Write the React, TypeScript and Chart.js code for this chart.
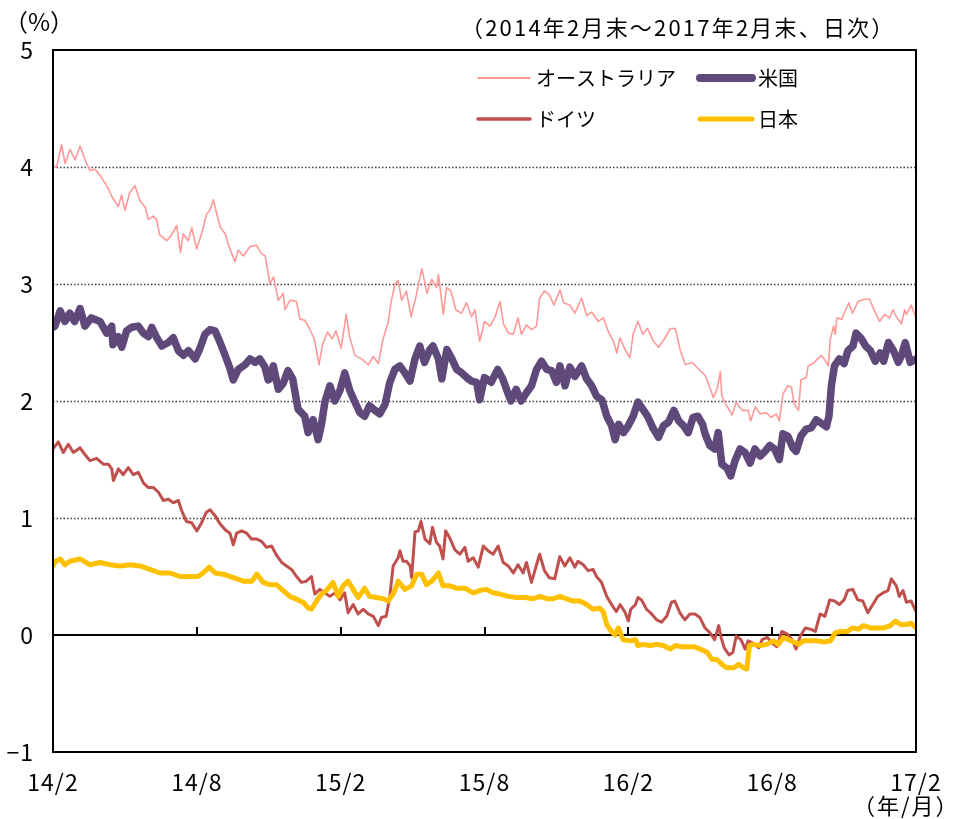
import React, { useEffect, useRef } from "react";
import { Chart, registerables } from "chart.js";

Chart.register(...registerables);

// x positions are months after end of Feb 2014 (0 = 14/2, 36 = 17/2)
const xTickLabels = ["14/2", "14/8", "15/2", "15/8", "16/2", "16/8", "17/2"];
const xTickStep = 6;
const yTickValues = [-1, 0, 1, 2, 3, 4, 5];
const gridValues = [1, 2, 3, 4];
const seriesNames = ["オーストラリア", "米国", "ドイツ", "日本"];
const titleText = "（2014年2月末～2017年2月末、日次）";
const unitText = "（%）";
const xUnitText = "（年/月）";

const australia: [number, number][] = [
  [0, 4.01], [0.15, 4.0], [0.36, 4.19], [0.5, 4.03], [0.71, 4.15], [0.92, 4.06], [1.13, 4.18], [1.34, 4.06],
  [1.54, 3.97], [1.75, 3.98], [1.96, 3.93], [2.24, 3.84], [2.45, 3.75], [2.72, 3.66], [2.86, 3.76], [3.0, 3.63],
  [3.2, 3.78], [3.42, 3.84], [3.63, 3.71], [3.84, 3.66], [3.98, 3.55], [4.18, 3.58], [4.32, 3.55], [4.45, 3.42],
  [4.74, 3.37], [4.95, 3.42], [5.16, 3.5], [5.32, 3.27], [5.43, 3.43], [5.64, 3.37], [5.79, 3.48], [5.99, 3.3],
  [6.2, 3.43], [6.41, 3.6], [6.55, 3.63], [6.69, 3.72], [6.83, 3.6], [6.97, 3.49], [7.18, 3.43], [7.38, 3.3],
  [7.59, 3.19], [7.73, 3.29], [7.94, 3.24], [8.22, 3.32], [8.49, 3.33], [8.7, 3.26], [8.85, 3.24], [9.05, 3.0],
  [9.2, 3.06], [9.4, 2.86], [9.6, 2.92], [9.68, 2.78], [9.88, 2.86], [10.16, 2.85], [10.3, 2.7], [10.5, 2.69],
  [10.7, 2.62], [10.9, 2.53], [11.1, 2.31], [11.24, 2.48], [11.45, 2.59], [11.65, 2.53], [11.8, 2.6], [12.02, 2.45],
  [12.23, 2.74], [12.37, 2.55], [12.6, 2.39], [12.87, 2.36], [13.15, 2.31], [13.36, 2.38], [13.57, 2.32], [13.77, 2.53],
  [13.98, 2.67], [14.1, 2.84], [14.26, 3.0], [14.4, 3.03], [14.54, 2.86], [14.74, 2.94], [14.94, 2.72], [15.15, 2.9],
  [15.3, 3.05], [15.39, 3.13], [15.6, 2.92], [15.8, 3.04], [16.0, 2.97], [16.08, 3.08], [16.28, 2.74], [16.42, 2.97],
  [16.6, 2.94], [16.8, 2.78], [17.04, 2.75], [17.25, 2.84], [17.46, 2.72], [17.6, 2.78], [17.8, 2.51], [18.0, 2.68],
  [18.23, 2.64], [18.44, 2.72], [18.65, 2.85], [18.79, 2.66], [19.0, 2.58], [19.2, 2.57], [19.4, 2.71], [19.54, 2.57],
  [19.75, 2.65], [19.96, 2.61], [20.17, 2.64], [20.3, 2.88], [20.5, 2.94], [20.7, 2.91], [20.9, 2.82], [21.15, 2.95],
  [21.3, 2.84], [21.56, 2.82], [21.77, 2.75], [22.05, 2.88], [22.26, 2.73], [22.47, 2.76], [22.75, 2.68], [22.96, 2.71],
  [23.17, 2.59], [23.38, 2.51], [23.52, 2.41], [23.65, 2.54], [23.86, 2.44], [24.07, 2.37], [24.2, 2.57], [24.4, 2.68],
  [24.6, 2.57], [24.8, 2.62], [25.05, 2.51], [25.26, 2.46], [25.54, 2.54], [25.75, 2.62], [25.96, 2.62], [26.17, 2.43],
  [26.38, 2.31], [26.66, 2.33], [26.9, 2.28], [27.2, 2.22], [27.35, 2.14], [27.55, 2.03], [27.7, 2.1], [27.84, 2.25],
  [27.9, 2.04], [28.1, 1.96], [28.33, 1.88], [28.5, 1.99], [28.74, 1.92], [29.0, 1.92], [29.1, 1.83], [29.3, 1.95],
  [29.5, 1.89], [29.75, 1.9], [29.96, 1.86], [30.17, 1.89], [30.3, 1.83], [30.45, 2.06], [30.65, 2.13], [30.8, 2.12],
  [30.93, 1.97], [31.1, 1.92], [31.2, 2.18], [31.42, 2.2], [31.5, 2.3], [31.7, 2.32], [31.9, 2.36], [32.05, 2.39],
  [32.2, 2.35], [32.34, 2.3], [32.42, 2.52], [32.56, 2.64], [32.63, 2.57], [32.7, 2.71], [32.9, 2.7], [33.0, 2.75],
  [33.2, 2.84], [33.35, 2.75], [33.58, 2.85], [33.85, 2.87], [34.06, 2.87], [34.27, 2.77], [34.48, 2.68], [34.69, 2.74],
  [34.9, 2.71], [35.04, 2.78], [35.18, 2.72], [35.39, 2.66], [35.53, 2.78], [35.6, 2.74], [35.8, 2.82], [36, 2.71],
];

const usa: [number, number][] = [
  [0, 2.63], [0.08, 2.64], [0.3, 2.77], [0.5, 2.68], [0.7, 2.75], [0.9, 2.68], [1.13, 2.79], [1.33, 2.64],
  [1.6, 2.71], [1.96, 2.68], [2.24, 2.58], [2.45, 2.64], [2.5, 2.48], [2.72, 2.55], [2.87, 2.46], [3.07, 2.6],
  [3.28, 2.63], [3.56, 2.64], [3.77, 2.58], [3.98, 2.55], [4.12, 2.63], [4.33, 2.54], [4.54, 2.47], [4.81, 2.5],
  [5.02, 2.54], [5.23, 2.43], [5.44, 2.39], [5.65, 2.43], [5.93, 2.36], [6.13, 2.45], [6.34, 2.57], [6.55, 2.61],
  [6.76, 2.6], [6.97, 2.5], [7.18, 2.39], [7.38, 2.28], [7.52, 2.18], [7.73, 2.27], [8.01, 2.31], [8.22, 2.36],
  [8.43, 2.33], [8.63, 2.36], [8.84, 2.29], [8.98, 2.18], [9.05, 2.19], [9.19, 2.3], [9.4, 2.1], [9.6, 2.15],
  [9.8, 2.26], [10.0, 2.19], [10.22, 1.93], [10.5, 1.87], [10.64, 1.73], [10.85, 1.84], [11.06, 1.67], [11.2, 1.8],
  [11.34, 1.99], [11.55, 2.13], [11.76, 2.0], [11.97, 2.09], [12.17, 2.24], [12.38, 2.09], [12.6, 1.99], [12.8, 1.9],
  [13.0, 1.87], [13.2, 1.96], [13.43, 1.92], [13.63, 1.89], [13.85, 1.97], [14.05, 2.16], [14.26, 2.27], [14.47, 2.3],
  [14.68, 2.24], [14.89, 2.17], [15.1, 2.36], [15.3, 2.47], [15.5, 2.33], [15.72, 2.44], [15.85, 2.47], [16.08, 2.36],
  [16.22, 2.19], [16.43, 2.44], [16.64, 2.36], [16.84, 2.27], [17.05, 2.24], [17.26, 2.2], [17.46, 2.17], [17.67, 2.16],
  [17.8, 2.01], [18.0, 2.2], [18.28, 2.16], [18.55, 2.27], [18.76, 2.19], [18.97, 2.07], [19.1, 2.0], [19.32, 2.1],
  [19.53, 2.0], [19.75, 2.07], [19.96, 2.13], [20.17, 2.27], [20.38, 2.34], [20.6, 2.27], [20.8, 2.26], [21.0, 2.16],
  [21.15, 2.3], [21.36, 2.13], [21.56, 2.29], [21.77, 2.21], [22.05, 2.3], [22.26, 2.19], [22.47, 2.13], [22.68, 2.04],
  [22.9, 2.01], [23.1, 1.87], [23.3, 1.79], [23.45, 1.67], [23.6, 1.8], [23.8, 1.73], [24.0, 1.79], [24.2, 1.87],
  [24.4, 1.99], [24.6, 1.93], [24.8, 1.87], [25.05, 1.76], [25.26, 1.69], [25.47, 1.79], [25.68, 1.82], [25.9, 1.92],
  [26.1, 1.83], [26.3, 1.79], [26.5, 1.73], [26.7, 1.86], [26.9, 1.87], [27.1, 1.8], [27.2, 1.72], [27.4, 1.62],
  [27.6, 1.59], [27.75, 1.73], [27.9, 1.46], [28.1, 1.43], [28.27, 1.36], [28.45, 1.49], [28.66, 1.59], [28.87, 1.56],
  [29.08, 1.47], [29.28, 1.59], [29.5, 1.53], [29.7, 1.57], [29.9, 1.62], [30.1, 1.59], [30.3, 1.5], [30.45, 1.72],
  [30.65, 1.7], [30.86, 1.6], [31.0, 1.57], [31.2, 1.7], [31.42, 1.76], [31.63, 1.77], [31.84, 1.84], [32.05, 1.81],
  [32.26, 1.78], [32.37, 1.87], [32.47, 2.13], [32.6, 2.3], [32.8, 2.36], [33.0, 2.32], [33.16, 2.43], [33.37, 2.47],
  [33.5, 2.58], [33.7, 2.54], [33.9, 2.47], [34.1, 2.43], [34.3, 2.34], [34.5, 2.41], [34.65, 2.34], [34.85, 2.5],
  [35.06, 2.43], [35.26, 2.33], [35.4, 2.39], [35.55, 2.5], [35.76, 2.33], [36, 2.36],
];

const germany: [number, number][] = [
  [0, 1.59], [0.22, 1.65], [0.43, 1.56], [0.64, 1.63], [0.85, 1.56], [1.13, 1.6], [1.34, 1.54], [1.54, 1.49],
  [1.82, 1.51], [2.1, 1.46], [2.31, 1.46], [2.45, 1.42], [2.52, 1.32], [2.73, 1.42], [2.93, 1.37], [3.14, 1.43],
  [3.35, 1.37], [3.56, 1.39], [3.77, 1.3], [3.98, 1.26], [4.19, 1.26], [4.4, 1.22], [4.6, 1.15], [4.81, 1.16],
  [5.02, 1.13], [5.23, 1.15], [5.37, 1.06], [5.57, 0.97], [5.78, 0.96], [6.0, 0.89], [6.2, 0.96], [6.4, 1.05],
  [6.55, 1.07], [6.76, 1.02], [6.97, 0.95], [7.18, 0.9], [7.38, 0.87], [7.52, 0.77], [7.66, 0.87], [7.87, 0.89],
  [8.08, 0.87], [8.28, 0.82], [8.5, 0.82], [8.7, 0.8], [8.9, 0.75], [9.12, 0.76], [9.33, 0.68], [9.54, 0.62],
  [9.74, 0.59], [9.95, 0.56], [10.16, 0.5], [10.36, 0.45], [10.57, 0.46], [10.78, 0.5], [10.92, 0.35], [11.13, 0.39],
  [11.34, 0.36], [11.55, 0.33], [11.76, 0.36], [11.97, 0.3], [12.17, 0.36], [12.31, 0.19], [12.52, 0.26], [12.73, 0.18],
  [12.94, 0.22], [13.15, 0.18], [13.36, 0.16], [13.57, 0.08], [13.7, 0.15], [13.9, 0.16], [14.05, 0.33], [14.19, 0.59],
  [14.4, 0.66], [14.47, 0.72], [14.6, 0.63], [14.75, 0.63], [14.9, 0.59], [14.96, 0.49], [15.1, 0.88], [15.24, 0.89],
  [15.35, 0.97], [15.52, 0.82], [15.72, 0.78], [15.83, 0.92], [16.0, 0.79], [16.13, 0.76], [16.27, 0.65], [16.38, 0.89],
  [16.55, 0.83], [16.76, 0.73], [16.97, 0.69], [17.18, 0.75], [17.32, 0.63], [17.53, 0.66], [17.74, 0.58], [17.95, 0.76],
  [18.15, 0.72], [18.36, 0.69], [18.57, 0.76], [18.78, 0.62], [18.99, 0.59], [19.2, 0.53], [19.4, 0.6], [19.61, 0.53],
  [19.75, 0.62], [19.96, 0.45], [20.1, 0.55], [20.3, 0.69], [20.5, 0.55], [20.7, 0.49], [20.93, 0.48], [21.14, 0.67],
  [21.35, 0.59], [21.56, 0.66], [21.77, 0.58], [21.9, 0.63], [22.12, 0.6], [22.32, 0.55], [22.53, 0.56], [22.67, 0.5],
  [22.88, 0.45], [23.1, 0.33], [23.3, 0.26], [23.5, 0.2], [23.66, 0.26], [23.87, 0.19], [24.0, 0.12], [24.1, 0.22],
  [24.3, 0.26], [24.4, 0.32], [24.55, 0.3], [24.76, 0.22], [24.97, 0.18], [25.18, 0.13], [25.39, 0.11], [25.6, 0.16],
  [25.8, 0.28], [25.94, 0.29], [26.15, 0.19], [26.36, 0.13], [26.57, 0.18], [26.78, 0.18], [26.98, 0.15], [27.2, 0.06],
  [27.4, 0.02], [27.6, -0.04], [27.77, 0.08], [27.87, -0.02], [28.0, -0.11], [28.2, -0.17], [28.36, -0.15], [28.5, -0.01],
  [28.7, -0.04], [28.87, -0.12], [29.0, -0.05], [29.2, -0.07], [29.44, -0.11], [29.58, -0.04], [29.8, -0.02], [30.0, -0.07],
  [30.2, -0.1], [30.4, 0.03], [30.62, 0.01], [30.83, -0.04], [31.0, -0.12], [31.17, -0.01], [31.38, 0.06], [31.6, 0.05],
  [31.8, 0.03], [32.0, 0.18], [32.2, 0.16], [32.4, 0.3], [32.6, 0.29], [32.8, 0.26], [33.0, 0.3], [33.15, 0.38],
  [33.36, 0.39], [33.57, 0.3], [33.78, 0.29], [33.99, 0.19], [34.2, 0.26], [34.4, 0.33], [34.62, 0.36], [34.83, 0.38],
  [34.97, 0.48], [35.18, 0.42], [35.3, 0.33], [35.46, 0.38], [35.6, 0.28], [35.8, 0.29], [36, 0.2],
];

const japan: [number, number][] = [
  [0, 0.59], [0.1, 0.63], [0.3, 0.65], [0.5, 0.6], [0.7, 0.63], [1.13, 0.65], [1.54, 0.6], [1.96, 0.62],
  [2.38, 0.6], [2.8, 0.59], [3.2, 0.6], [3.63, 0.59], [4.05, 0.56], [4.46, 0.53], [4.88, 0.53], [5.3, 0.5],
  [5.7, 0.5], [6.05, 0.5], [6.26, 0.53], [6.52, 0.58], [6.76, 0.53], [7.1, 0.52], [7.52, 0.49], [7.94, 0.46],
  [8.3, 0.46], [8.5, 0.52], [8.77, 0.45], [9.05, 0.43], [9.32, 0.43], [9.6, 0.38], [9.88, 0.33], [10.22, 0.3],
  [10.43, 0.28], [10.65, 0.23], [10.78, 0.22], [10.99, 0.29], [11.2, 0.35], [11.4, 0.38], [11.68, 0.45], [11.9, 0.33],
  [12.1, 0.42], [12.31, 0.46], [12.52, 0.39], [12.73, 0.32], [13.0, 0.4], [13.2, 0.33], [13.5, 0.32], [13.78, 0.31],
  [13.98, 0.29], [14.19, 0.35], [14.4, 0.46], [14.68, 0.39], [14.96, 0.42], [15.17, 0.52], [15.38, 0.52], [15.58, 0.43],
  [15.8, 0.46], [16.08, 0.53], [16.27, 0.42], [16.55, 0.42], [16.83, 0.4], [17.18, 0.4], [17.53, 0.36], [17.8, 0.38],
  [18.08, 0.39], [18.36, 0.36], [18.65, 0.35], [19.0, 0.33], [19.35, 0.32], [19.7, 0.32], [20.03, 0.31], [20.3, 0.33],
  [20.6, 0.31], [20.87, 0.31], [21.14, 0.33], [21.4, 0.31], [21.7, 0.29], [21.98, 0.29], [22.26, 0.26], [22.53, 0.22],
  [22.8, 0.23], [22.95, 0.2], [23.1, 0.09], [23.3, 0.03], [23.44, 0.0], [23.58, 0.06], [23.78, -0.04], [24.07, -0.05],
  [24.3, -0.04], [24.4, -0.09], [24.6, -0.08], [24.9, -0.09], [25.18, -0.08], [25.45, -0.09], [25.76, -0.12], [25.96, -0.09],
  [26.24, -0.1], [26.45, -0.1], [26.72, -0.1], [27.0, -0.12], [27.3, -0.15], [27.5, -0.21], [27.7, -0.21], [27.9, -0.25],
  [28.1, -0.28], [28.4, -0.28], [28.6, -0.25], [28.8, -0.28], [28.94, -0.29], [29.05, -0.09], [29.2, -0.08], [29.5, -0.09],
  [29.77, -0.08], [30.05, -0.05], [30.26, -0.08], [30.47, -0.02], [30.68, -0.04], [30.9, -0.06], [31.1, -0.08], [31.3, -0.05],
  [31.6, -0.05], [31.87, -0.05], [32.15, -0.06], [32.43, -0.05], [32.64, 0.02], [32.85, 0.03], [33.13, 0.03], [33.34, 0.06],
  [33.6, 0.05], [33.8, 0.08], [34.1, 0.06], [34.37, 0.06], [34.65, 0.06], [34.93, 0.08], [35.14, 0.12], [35.35, 0.09],
  [35.6, 0.09], [35.8, 0.1], [36, 0.06],
];

const COLORS = { aus: "#FF9999", usa: "#5F497A", ger: "#C0504D", jpn: "#FFC000" };
const FONT_FAMILY = '"Noto Sans CJK JP", "Noto Sans", sans-serif';

const spacingPlugin = {
  id: "spacing",
  beforeInit(chart: any) {
    chart.ctx.letterSpacing = "1px";
  },
  beforeDraw(chart: any) {
    chart.ctx.letterSpacing = "1px";
  },
};

const framePlugin = {
  id: "frame",
  beforeDatasetsDraw(chart: any) {
    const { ctx, chartArea } = chart;
    const y = chart.scales.y;
    const x = chart.scales.x;
    ctx.save();
    ctx.strokeStyle = "#404040";
    ctx.lineWidth = 1.5;
    ctx.setLineDash([1.5, 2]);
    for (const v of gridValues) {
      const py = Math.round(y.getPixelForValue(v)) + 0.5;
      ctx.beginPath();
      ctx.moveTo(chartArea.left, py);
      ctx.lineTo(chartArea.right, py);
      ctx.stroke();
    }
    ctx.setLineDash([]);
    const y0 = Math.round(y.getPixelForValue(0));
    ctx.strokeStyle = "#000";
    ctx.lineWidth = 2;
    ctx.beginPath();
    ctx.moveTo(chartArea.left, y0);
    ctx.lineTo(chartArea.right, y0);
    ctx.stroke();
    for (let i = 1; i < xTickLabels.length - 1; i++) {
      const px = Math.round(x.getPixelForValue(i * xTickStep));
      ctx.beginPath();
      ctx.moveTo(px, y0);
      ctx.lineTo(px, y0 - 8);
      ctx.stroke();
    }
    ctx.restore();
  },
  afterDatasetsDraw(chart: any) {
    const { ctx, chartArea } = chart;
    ctx.save();
    ctx.strokeStyle = "#000";
    ctx.lineWidth = 2;
    ctx.strokeRect(chartArea.left, chartArea.top, chartArea.right - chartArea.left, chartArea.bottom - chartArea.top);
    ctx.restore();
  },
};

const textPlugin = {
  id: "texts",
  afterDraw(chart: any) {
    const { ctx } = chart;
    ctx.save();
    ctx.fillStyle = "#000";
    ctx.textBaseline = "middle";
    ctx.textAlign = "left";
    ctx.font = `24px ${FONT_FAMILY}`;
    ctx.letterSpacing = "0px";
    ctx.fillText(unitText, 4, 22);
    ctx.font = `22px ${FONT_FAMILY}`;
    ctx.letterSpacing = "2.2px";
    ctx.fillText(titleText, 461, 28);
    ctx.letterSpacing = "2px";
    ctx.fillText(xUnitText, 853, 806);

    ctx.font = `20px ${FONT_FAMILY}`;
    ctx.letterSpacing = "0px";
    const legend = [
      { name: seriesNames[0], color: COLORS.aus, width: 2, x: 478, y: 78 },
      { name: seriesNames[1], color: COLORS.usa, width: 8, x: 700, y: 78 },
      { name: seriesNames[2], color: COLORS.ger, width: 3.5, x: 478, y: 119 },
      { name: seriesNames[3], color: COLORS.jpn, width: 5, x: 700, y: 119 },
    ];
    for (const item of legend) {
      ctx.strokeStyle = item.color;
      ctx.lineWidth = item.width;
      ctx.lineCap = "round";
      ctx.beginPath();
      ctx.moveTo(item.x, item.y);
      ctx.lineTo(item.x + 52, item.y);
      ctx.stroke();
      ctx.fillStyle = "#000";
      ctx.fillText(item.name, item.x + 58, item.y);
    }
    ctx.restore();
  },
};

const toPoints = (arr: [number, number][]) => arr.map(([x, y]) => ({ x, y }));

export default function App() {
  const ref = useRef<HTMLCanvasElement>(null);
  useEffect(() => {
    if (!ref.current) return;
    const lineBase = {
      pointRadius: 0,
      tension: 0,
      fill: false,
      borderJoinStyle: "round" as const,
      borderCapStyle: "round" as const,
    };
    const chart = new Chart(ref.current, {
      type: "line",
      data: {
        datasets: [
          { ...lineBase, label: seriesNames[3], data: toPoints(japan), borderColor: COLORS.jpn, borderWidth: 5 },
          { ...lineBase, label: seriesNames[2], data: toPoints(germany), borderColor: COLORS.ger, borderWidth: 3 },
          { ...lineBase, label: seriesNames[1], data: toPoints(usa), borderColor: COLORS.usa, borderWidth: 7.5 },
          { ...lineBase, label: seriesNames[0], data: toPoints(australia), borderColor: COLORS.aus, borderWidth: 1.6 },
        ],
      },
      options: {
        animation: false,
        responsive: false,
        layout: { padding: { top: 50, right: 37, left: 0, bottom: 0 } },
        plugins: { legend: { display: false }, tooltip: { enabled: false } },
        scales: {
          x: {
            type: "linear",
            min: 0,
            max: 36,
            afterBuildTicks: (s: any) => {
              s.ticks = xTickLabels.map((_, i) => ({ value: i * xTickStep }));
            },
            afterFit: (s: any) => {
              s.height = 67;
              s.paddingLeft = 0;
              s.paddingRight = 0;
            },
            ticks: {
              autoSkip: false,
              maxRotation: 0,
              padding: 16,
              color: "#000",
              font: { family: FONT_FAMILY, size: 23 },
              callback: (v: any) => xTickLabels[Math.round(Number(v) / xTickStep)],
            },
            grid: { display: false, drawTicks: false },
            border: { display: false },
          },
          y: {
            type: "linear",
            min: -1,
            max: 5,
            afterBuildTicks: (s: any) => {
              s.ticks = yTickValues.map((v) => ({ value: v }));
            },
            afterFit: (s: any) => {
              s.width = 53;
              s.paddingTop = 0;
              s.paddingBottom = 0;
            },
            ticks: {
              padding: 19,
              color: "#000",
              font: { family: FONT_FAMILY, size: 23 },
              callback: (v: any) => (Number(v) < 0 ? "−" + Math.abs(Number(v)) : String(v)),
            },
            grid: { display: false, drawTicks: false },
            border: { display: false },
          },
        },
      },
      plugins: [spacingPlugin, framePlugin, textPlugin],
    });
    return () => chart.destroy();
  }, []);
  return (
    <div style={{ position: "fixed", left: 0, top: 0, width: 953, height: 819, background: "#fff" }}>
      <canvas ref={ref} width={953} height={819} style={{ display: "block" }} />
    </div>
  );
}
